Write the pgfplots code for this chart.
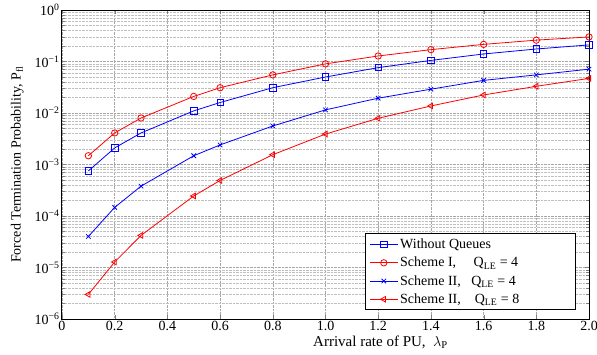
\documentclass[border=0pt]{standalone}
\usepackage{fontspec}
\setmainfont{Liberation Serif}
\usepackage{pgfplots}
\pgfplotsset{compat=1.18}
\begin{document}
\begin{tikzpicture}
\begin{axis}[
  scale only axis,
  width=527pt, height=309pt,
  xmin=0, xmax=2,
  ymode=log, ymin=1e-6, ymax=1,
  xtick={0,0.2,0.4,0.6,0.8,1.0,1.2,1.4,1.6,1.8,2.0},
  xticklabels={0,0.2,0.4,0.6,0.8,1.0,1.2,1.4,1.6,1.8,2.0},
  ytick={1e-6,1e-5,1e-4,1e-3,1e-2,1e-1,1},
  yticklabels={10\textsuperscript{−6},10\textsuperscript{−5},10\textsuperscript{−4},10\textsuperscript{−3},10\textsuperscript{−2},10\textsuperscript{−1},10\textsuperscript{0}},
  tick label style={font=\fontsize{14}{16}\selectfont},
  xticklabel style={yshift=1pt},
  yticklabel style={xshift=1pt},
  grid=both,
  major grid style={densely dotted, gray!70, line width=0.5pt},
  minor grid style={densely dotted, gray!50, line width=0.4pt},
  tick align=inside,
  axis line style={line width=1pt},
  xlabel={Arrival rate of PU,\ \ $\lambda$\textsubscript{P}},
  ylabel={Forced Termination Probability, P\textsubscript{fl}},
  xlabel style={font=\fontsize{15}{16}\selectfont, yshift=2pt, xshift=55pt},
  ylabel style={font=\fontsize{14}{16}\selectfont, yshift=4pt},
  legend cell align=left,
  legend image code/.code={\draw[mark repeat=2,mark phase=2] plot coordinates {(0pt,0pt) (14pt,0pt) (28pt,0pt)};},
  legend style={font=\fontsize{14}{16}\selectfont, draw=black, line width=1pt, at={(0.975,0.028)}, anchor=south east, inner xsep=4pt, inner ysep=3pt, row sep=3pt},
  every axis plot/.append style={line width=0.8pt, mark size=3.2pt},
]
\addplot[blue, mark=square] coordinates {
(0.1,7.5e-4) (0.2,2.1e-3) (0.3,4.1e-3) (0.5,1.1e-2) (0.6,1.6e-2) (0.8,3.1e-2)
(1.0,5.0e-2) (1.2,7.6e-2) (1.4,0.105) (1.6,0.14) (1.8,0.175) (2.0,0.21)};
\addlegendentry{Without Queues}
\addplot[red, mark=o] coordinates {
(0.1,1.48e-3) (0.2,4.1e-3) (0.3,8.0e-3) (0.5,2.1e-2) (0.6,3.1e-2) (0.8,5.5e-2)
(1.0,0.09) (1.2,0.128) (1.4,0.17) (1.6,0.215) (1.8,0.26) (2.0,0.30)};
\addlegendentry{Scheme I,\ \ \ \ \ Q\textsubscript{LE} = 4}
\addplot[blue, mark=x] coordinates {
(0.1,4.0e-5) (0.2,1.47e-4) (0.3,3.8e-4) (0.5,1.48e-3) (0.6,2.4e-3) (0.8,5.6e-3)
(1.0,1.15e-2) (1.2,1.94e-2) (1.4,2.9e-2) (1.6,4.3e-2) (1.8,5.5e-2) (2.0,0.071)};
\addlegendentry{Scheme II,\ \ \ Q\textsubscript{LE} = 4}
\addplot[red, mark=triangle, mark options={rotate=90}] coordinates {
(0.1,3.0e-6) (0.2,1.28e-5) (0.3,4.2e-5) (0.5,2.45e-4) (0.6,4.9e-4) (0.8,1.55e-3)
(1.0,3.9e-3) (1.2,7.9e-3) (1.4,1.37e-2) (1.6,2.24e-2) (1.8,3.3e-2) (2.0,4.7e-2)};
\addlegendentry{Scheme II,\ \ \ \ Q\textsubscript{LE} = 8\hspace*{50pt}}
\end{axis}
\pgfresetboundingbox
\path[use as bounding box] (-62pt,-35pt) rectangle (535pt,319pt);
\end{tikzpicture}
\end{document}
